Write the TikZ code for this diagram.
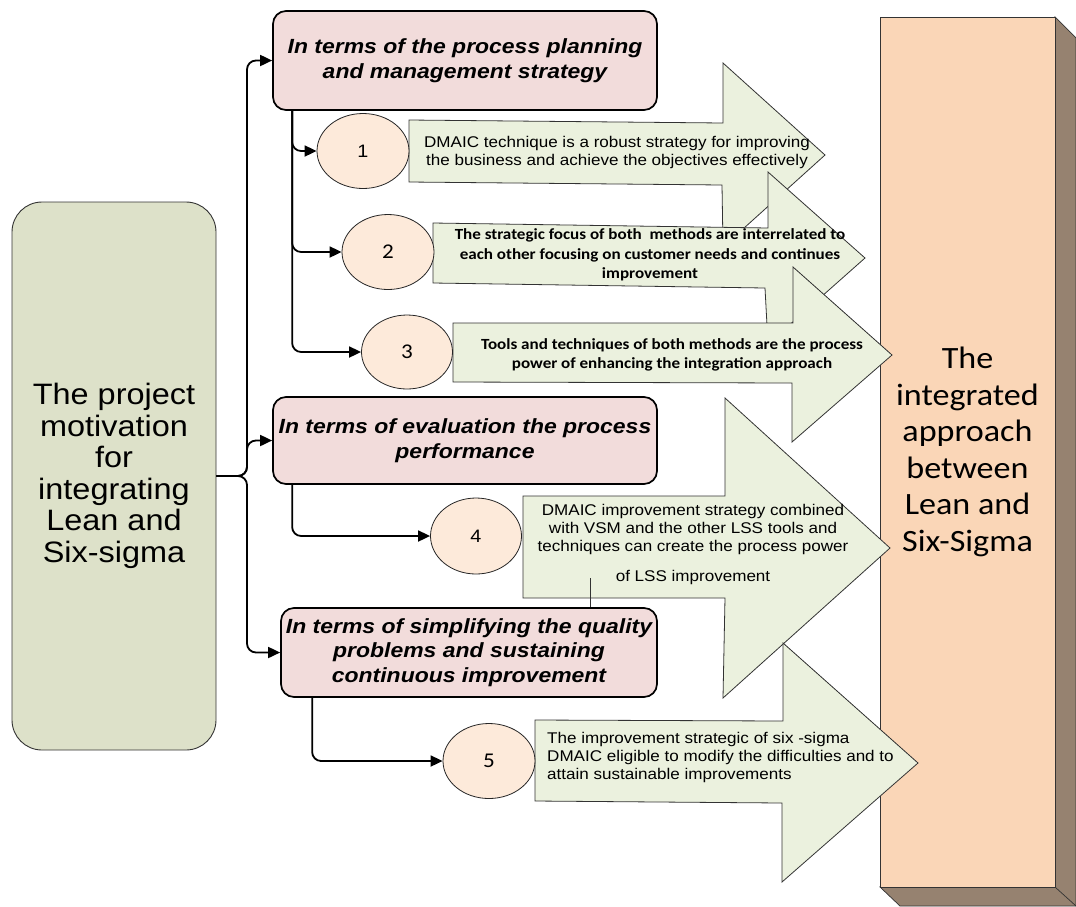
\documentclass[tikz,border=0pt]{standalone}
\usepackage{fontspec}
\setmainfont[FakeStretch=1.1]{Liberation Sans}
\newfontfamily\calibrif[FakeStretch=1.1]{Carlito}
\newfontfamily\boxf[FakeStretch=1.12]{Liberation Sans}
\usetikzlibrary{arrows.meta,shapes.geometric,calc}
\definecolor{lboxfill}{RGB}{221,225,201}
\definecolor{pinkfill}{RGB}{242,220,219}
\definecolor{circfill}{RGB}{253,234,218}
\definecolor{arrowfill}{RGB}{235,241,222}
\definecolor{colfill}{RGB}{250,214,183}
\definecolor{shadowc}{RGB}{150,130,112}
\begin{document}
\begin{tikzpicture}[x=1pt,y=-1pt,
  lbox/.style={draw=black!80, line width=0.9pt, fill=lboxfill, rounded corners=30pt,
    minimum width=204pt, minimum height=548pt, align=center, inner sep=0pt,
    font=\fontsize{29.5}{31.5}\selectfont},
  pbox/.style={draw, line width=1.7pt, fill=pinkfill, rounded corners=13pt, align=center,
    inner sep=0pt, font=\boxf\bfseries\itshape\fontsize{20.5}{24.5}\selectfont},
  num/.style={ellipse, draw=black!85, line width=0.8pt, fill=circfill, inner sep=0pt},
  numA/.style={num, font=\fontsize{18}{21}\selectfont},
  numC/.style={num, font=\calibrif\fontsize{21}{25}\selectfont},
  conn/.style={line width=1.8pt, rounded corners=9pt, -{Triangle[length=12pt,width=11pt]}},
  blk/.style={draw=black!80, line width=0.8pt, fill=arrowfill},
  atext/.style={align=center, inner sep=0pt, font=\fontsize{15.5}{18.5}\selectfont},
  ctext/.style={align=center, inner sep=0pt, font=\calibrif\bfseries\fontsize{15.5}{19.5}\selectfont},
  col/.style={draw=black!80, line width=0.8pt, fill=colfill, minimum width=175pt,
    minimum height=870pt, inner sep=0pt, align=center,
    font=\calibrif\fontsize{31}{36.5}\selectfont}
]
\useasboundingbox (0,0) rectangle (1076,906);

% right column with shadow
\filldraw[fill=shadowc, draw=black!80, line width=0.7pt]
  (1055,17) -- (1076,38) -- (1076,906) -- (900,906) -- (880,887) -- (1055,887) -- cycle;
\draw[black!80, line width=0.7pt] (1055,887) -- (1076,906);
\node[col] (col) at (967.5,452) {The\\integrated\\approach\\between\\Lean and\\Six-Sigma};

% left box
\node[lbox] (lb) at (114,476) {The project\\motivation\\for\\integrating\\Lean and\\Six-sigma};

% category boxes
\node[pbox, minimum width=384pt, minimum height=99pt] (b1) at (465,60.5)
  {In terms of the process planning\\and management strategy};
\node[pbox, minimum width=384pt, minimum height=87pt] (b2) at (465,440.5)
  {In terms of evaluation the process\\performance};
\node[pbox, minimum width=376pt, minimum height=89pt] (b3) at (469,652.5)
  {In terms of simplifying the quality\\problems and sustaining\\continuous improvement};

% fork connectors
\coordinate (fork) at (247,476);
\draw[conn] (lb.east) -- (fork) |- (b1.west);
\draw[conn] (lb.east) -- (fork) |- (b2.west);
\draw[conn] (lb.east) -- (fork) |- (b3.west);

% block arrows and texts
\draw[blk] (409,120) -- (723,123) -- (723,63) -- (825,155) -- (723,247) -- (722,185) -- (409,182) -- cycle;
\node[atext] (t1) at (617,152.5)
  {DMAIC technique is a robust strategy for improving\\the business and achieve the objectives effectively};

\draw[blk] (433,223) -- (768,228) -- (768,172) -- (865,258) -- (768,344) -- (765,288) -- (433,283) -- cycle;
\node[ctext] (t2) at (650,255)
  {The strategic focus of both\ \ methods are interrelated to\\each other focusing on customer needs and continues\\improvement};

\draw[blk] (453,323) -- (793,323) -- (793,267) -- (892,355) -- (792,442) -- (792,383) -- (453,382) -- cycle;
\node[ctext] (t3) at (672,355)
  {Tools and techniques of both methods are the process\\power of enhancing the integration approach};

\draw[blk] (523,496) -- (725,496) -- (725,398) -- (890,548) -- (723,698) -- (725,598) -- (523,598) -- cycle;
\node[atext, font=\fontsize{15.5}{18}\selectfont] (t4) at (693,544)
  {DMAIC improvement strategy combined\\with VSM and the other LSS tools and\\techniques can create the process power\\[12pt]of LSS improvement};

\draw[blk] (535,720) -- (783,721) -- (783,643) -- (918,763) -- (782,882) -- (782,803) -- (535,801) -- cycle;
\node[atext, align=left, anchor=west, font=\fontsize{15.5}{18}\selectfont] (t5) at (547,757)
  {The improvement strategic of six -sigma\\DMAIC eligible to modify the difficulties and to\\attain sustainable improvements};

% stray line
\coordinate (st) at (590,578);
\draw[black!80, line width=0.7pt] (st) -- (st |- b3.north);

% numbered circles
\node[numA, minimum width=92pt, minimum height=75pt] (c1) at (363,151) {1};
\node[numC, minimum width=92pt, minimum height=75pt] (c2) at (388,252) {2};
\node[numC, minimum width=91pt, minimum height=74pt] (c3) at (407,352) {3};
\node[numA, minimum width=91pt, minimum height=76pt] (c4) at (476,536) {4};
\node[numC, minimum width=92pt, minimum height=75pt] (c5) at (489,761) {5};

% sub connectors
\coordinate (s1) at ($(b1.south west)+(20,0)$);
\coordinate (s2) at ($(b2.south west)+(20,0)$);
\coordinate (s3) at ($(b3.south west)+(32,0)$);
\draw[conn] (s1) |- (c1.west);
\draw[conn] (s1) |- (c2.west);
\draw[conn] (s1) |- (c3.west);
\draw[conn] (s2) |- (c4.west);
\draw[conn] (s3) |- (c5.west);
\end{tikzpicture}
\end{document}
